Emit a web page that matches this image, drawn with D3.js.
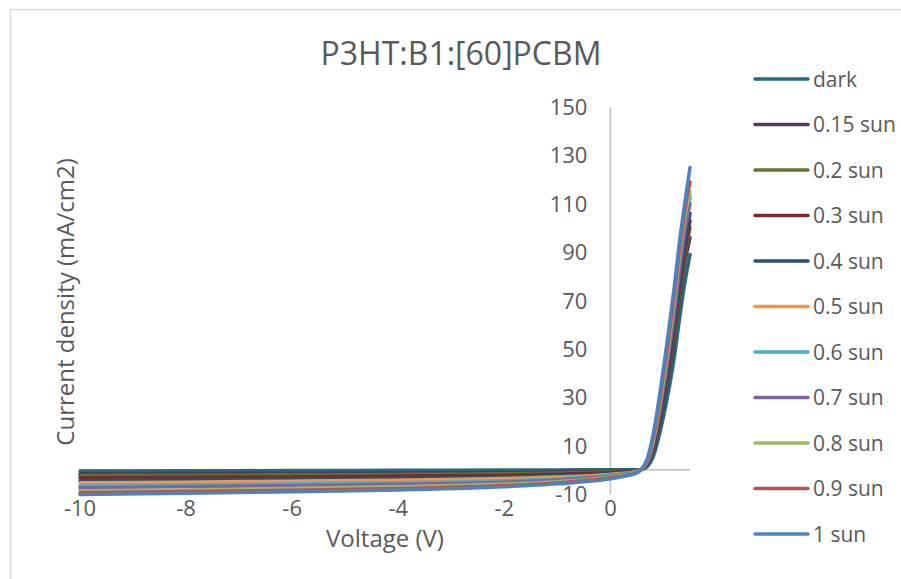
<!DOCTYPE html>
<html>
<head>
<meta charset="utf-8">
<script src="https://cdn.jsdelivr.net/npm/d3@7"></script>
<style>
  body { margin: 0; background: #fff; }
  svg text { font-family: "Open Sans", sans-serif; fill: #595959; }
</style>
</head>
<body>
<svg id="chart" width="901" height="579"></svg>
<script>
// Voltage sweep (V), shared by every series
const voltage = [-10, -8, -6, -4, -2, -1, 0, 0.3, 0.5, 0.6, 0.7, 0.8, 0.9, 1.0, 1.1, 1.2, 1.3, 1.4, 1.5];

// Current density (mA/cm2) per illumination level
const dark    = [-0.5, -0.4, -0.3, -0.2, -0.1, -0.05, 0, 0, 0.05, 0.3, 1.5, 5, 12.5, 22, 33, 46, 62, 77, 89];
const sun015  = [-1.6, -1.5, -1.4, -1.3, -1.1, -0.9, -0.6, -0.4, -0.2, 0.3, 2.4, 7.2, 16, 27, 39, 53, 70, 85, 96];
const sun02   = [-2.4, -2.3, -2.1, -1.9, -1.6, -1.3, -0.8, -0.5, -0.25, 0.4, 2.7, 8, 17.5, 29, 42, 56, 73, 88, 100];
const sun03   = [-3.3, -3.1, -2.9, -2.6, -2.2, -1.8, -1.1, -0.7, -0.35, 0.4, 2.9, 8.5, 18, 30, 43, 58, 75, 90, 103];
const sun04   = [-4.5, -4.2, -3.9, -3.5, -3.0, -2.4, -1.5, -1.0, -0.5, 0.4, 3.2, 9.5, 19.8, 32, 45.5, 60.5, 78, 93.5, 106];
const sun05   = [-5.4, -5.1, -4.7, -4.3, -3.6, -3.0, -1.9, -1.3, -0.6, 0.4, 3.8, 11, 22, 35, 50, 66, 85, 101, 112];
const sun06   = [-6.6, -6.2, -5.8, -5.3, -4.5, -3.7, -2.2, -1.5, -0.7, 0.4, 3.9, 11.2, 22.5, 36, 51, 67, 86, 102, 113];
const sun07   = [-7.4, -7.0, -6.6, -6.0, -5.1, -4.2, -2.6, -1.8, -0.8, 0.4, 3.6, 10.4, 21, 34, 48, 64, 82, 98, 110];
const sun08   = [-8.7, -8.3, -7.7, -7.0, -5.9, -4.9, -3.0, -2.0, -0.9, 0.5, 4.1, 11.5, 23, 37, 52, 69, 88, 104, 115];
const sun09   = [-9.5, -9.0, -8.4, -7.7, -6.5, -5.4, -3.3, -2.3, -1.1, 0.5, 4.5, 12.7, 25, 39.5, 55, 72, 91, 107, 119];
const sun1    = [-10.2, -9.7, -9.1, -8.3, -7.0, -5.8, -3.7, -2.5, -1.2, 0.5, 5, 14, 27, 42, 58, 75, 94, 110, 125];

const seriesNames = ["dark", "0.15 sun", "0.2 sun", "0.3 sun", "0.4 sun", "0.5 sun",
                     "0.6 sun", "0.7 sun", "0.8 sun", "0.9 sun", "1 sun"];
const seriesValues = [dark, sun015, sun02, sun03, sun04, sun05, sun06, sun07, sun08, sun09, sun1];
const seriesColors = ["#276A7C", "#4D3B62", "#5F7530", "#772C2A", "#2C4D75", "#F79646",
                      "#4BACC6", "#8064A2", "#9BBB59", "#C0504D", "#4F81BD"];

const xTicks = [-10, -8, -6, -4, -2, 0];
const yTicks = [-10, 10, 30, 50, 70, 90, 110, 130, 150];

const svg = d3.select("#chart");

// Chart area border
svg.append("rect")
   .attr("x", 10.5).attr("y", 9.5)
   .attr("width", 900).attr("height", 580)
   .attr("fill", "#fff")
   .attr("stroke", "#d9d9d9")
   .attr("stroke-width", 1.5);

const x = d3.scaleLinear().domain([-10, 1.5]).range([80, 690]);
const y = d3.scaleLinear().domain([-10, 150]).range([494, 107]);

// Axis lines cross at the origin
svg.append("line")
   .attr("x1", x(-10)).attr("x2", x(1.5))
   .attr("y1", y(0)).attr("y2", y(0))
   .attr("stroke", "#bfbfbf").attr("stroke-width", 1.5);

svg.append("line")
   .attr("x1", x(0)).attr("x2", x(0))
   .attr("y1", y(-10)).attr("y2", y(150))
   .attr("stroke", "#bfbfbf").attr("stroke-width", 1.5);

// Tick labels
svg.append("g").selectAll("text")
   .data(xTicks)
   .join("text")
   .attr("x", d => x(d))
   .attr("y", y(-10) + 22)
   .attr("text-anchor", "middle")
   .attr("font-size", 22)
   .text(d => d);

svg.append("g").selectAll("text")
   .data(yTicks)
   .join("text")
   .attr("x", x(0) - 23)
   .attr("y", d => y(d) + 8)
   .attr("text-anchor", "end")
   .attr("font-size", 22)
   .text(d => d);

// Curves
const line = d3.line()
               .x((d, i) => x(voltage[i]))
               .y(d => y(d))
               .curve(d3.curveMonotoneX);

svg.append("g").selectAll("path")
   .data(seriesValues)
   .join("path")
   .attr("d", line)
   .attr("fill", "none")
   .attr("stroke", (d, i) => seriesColors[i])
   .attr("stroke-width", 3.5)
   .attr("stroke-linejoin", "round")
   .attr("stroke-linecap", "round");

// Title and axis titles
svg.append("text")
   .attr("x", 461).attr("y", 65)
   .attr("text-anchor", "middle")
   .attr("font-size", 32)
   .text("P3HT:B1:[60]PCBM");

svg.append("text")
   .attr("x", 385).attr("y", 547)
   .attr("text-anchor", "middle")
   .attr("font-size", 24)
   .text("Voltage (V)");

svg.append("text")
   .attr("transform", "translate(74,302) rotate(-90)")
   .attr("text-anchor", "middle")
   .attr("font-size", 24)
   .text("Current density (mA/cm2)");

// Legend
const legend = svg.append("g").selectAll("g")
   .data(seriesNames)
   .join("g")
   .attr("transform", (d, i) => `translate(755, ${79 + i * 45.5})`);

legend.append("line")
      .attr("x1", 0).attr("x2", 53)
      .attr("stroke", (d, i) => seriesColors[i])
      .attr("stroke-width", 3.5)
      .attr("stroke-linecap", "round");

legend.append("text")
      .attr("x", 58).attr("y", 7.5)
      .attr("font-size", 21)
      .text(d => d);
</script>
</body>
</html>
